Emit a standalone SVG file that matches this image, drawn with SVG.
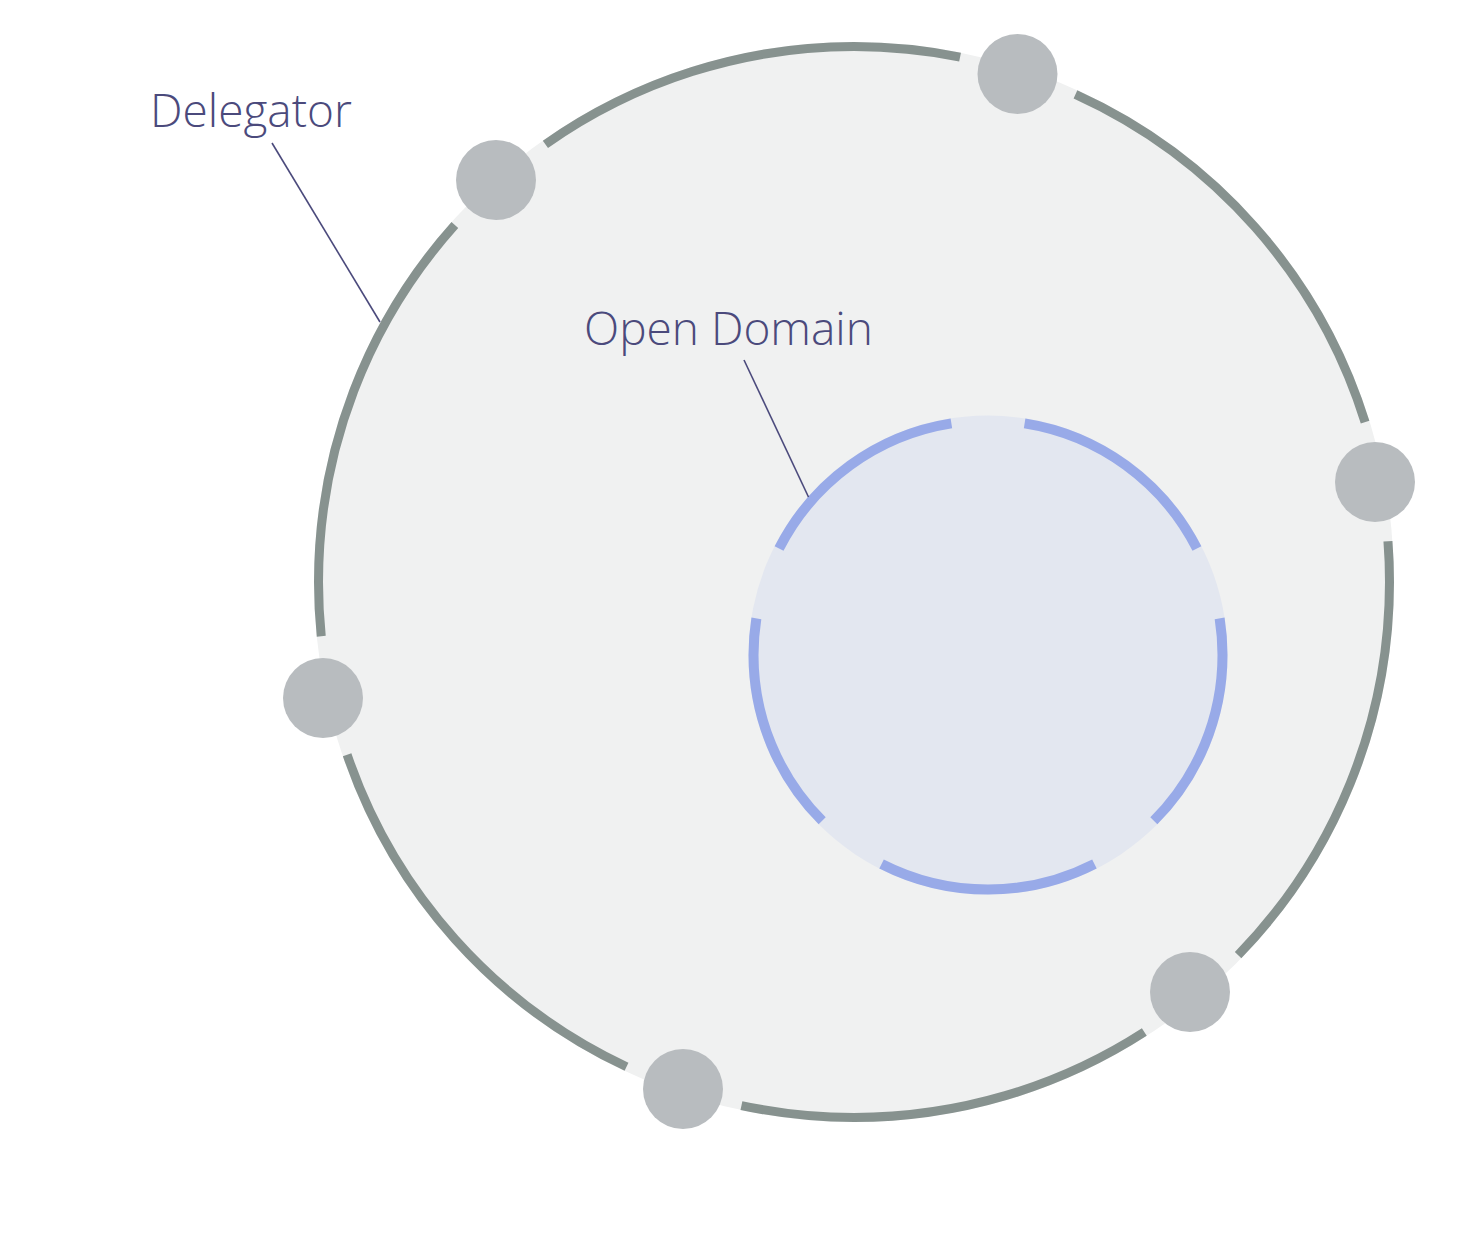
<svg xmlns="http://www.w3.org/2000/svg" width="1460" height="1240" viewBox="0 0 1460 1240">
  <style>
    .lbl { font-family: "Open Sans", "Noto Sans", "Liberation Sans", sans-serif; font-weight: 300; font-size: 46px; fill: #4b4a7c; }
    .lead { stroke: #4b4a7c; stroke-width: 1.6; fill: none; }
    .member { fill: #b8bcbf; }
  </style>
  <rect width="1460" height="1240" fill="#ffffff"/>
  <g id="delegator">
    <circle cx="854" cy="582" r="540" fill="#f0f1f1"/>
    <circle cx="854" cy="582" r="535.5" fill="none" stroke="#87928f" stroke-width="9" pathLength="360" stroke-dasharray="48.54 13 44.97 13 46.04 13 47.63 13 46.62 13 48.2 13" stroke-dashoffset="4.37"/>
  </g>
  <g id="open-domain">
    <circle cx="988" cy="655" r="239.5" fill="#e3e7f0"/>
    <circle cx="988" cy="655" r="234.5" fill="none" stroke="#98aae8" stroke-width="10" pathLength="360" stroke-dasharray="54 18" stroke-dashoffset="9"/>
  </g>
  <g id="member-1"><circle class="member" cx="1017.5" cy="74" r="40"/></g>
  <g id="member-2"><circle class="member" cx="496" cy="180" r="40"/></g>
  <g id="member-3"><circle class="member" cx="1375" cy="482" r="40"/></g>
  <g id="member-4"><circle class="member" cx="323" cy="698" r="40"/></g>
  <g id="member-5"><circle class="member" cx="1190" cy="992" r="40"/></g>
  <g id="member-6"><circle class="member" cx="683" cy="1089" r="40"/></g>
  <g id="connectors">
    <line class="lead" x1="272" y1="143" x2="380" y2="322"/>
    <line class="lead" x1="744" y1="360" x2="808.5" y2="497"/>
  </g>
  <g id="labels">
    <text class="lbl" x="150" y="127">Delegator</text>
    <text class="lbl" x="584" y="345">Open Domain</text>
  </g>
</svg>
